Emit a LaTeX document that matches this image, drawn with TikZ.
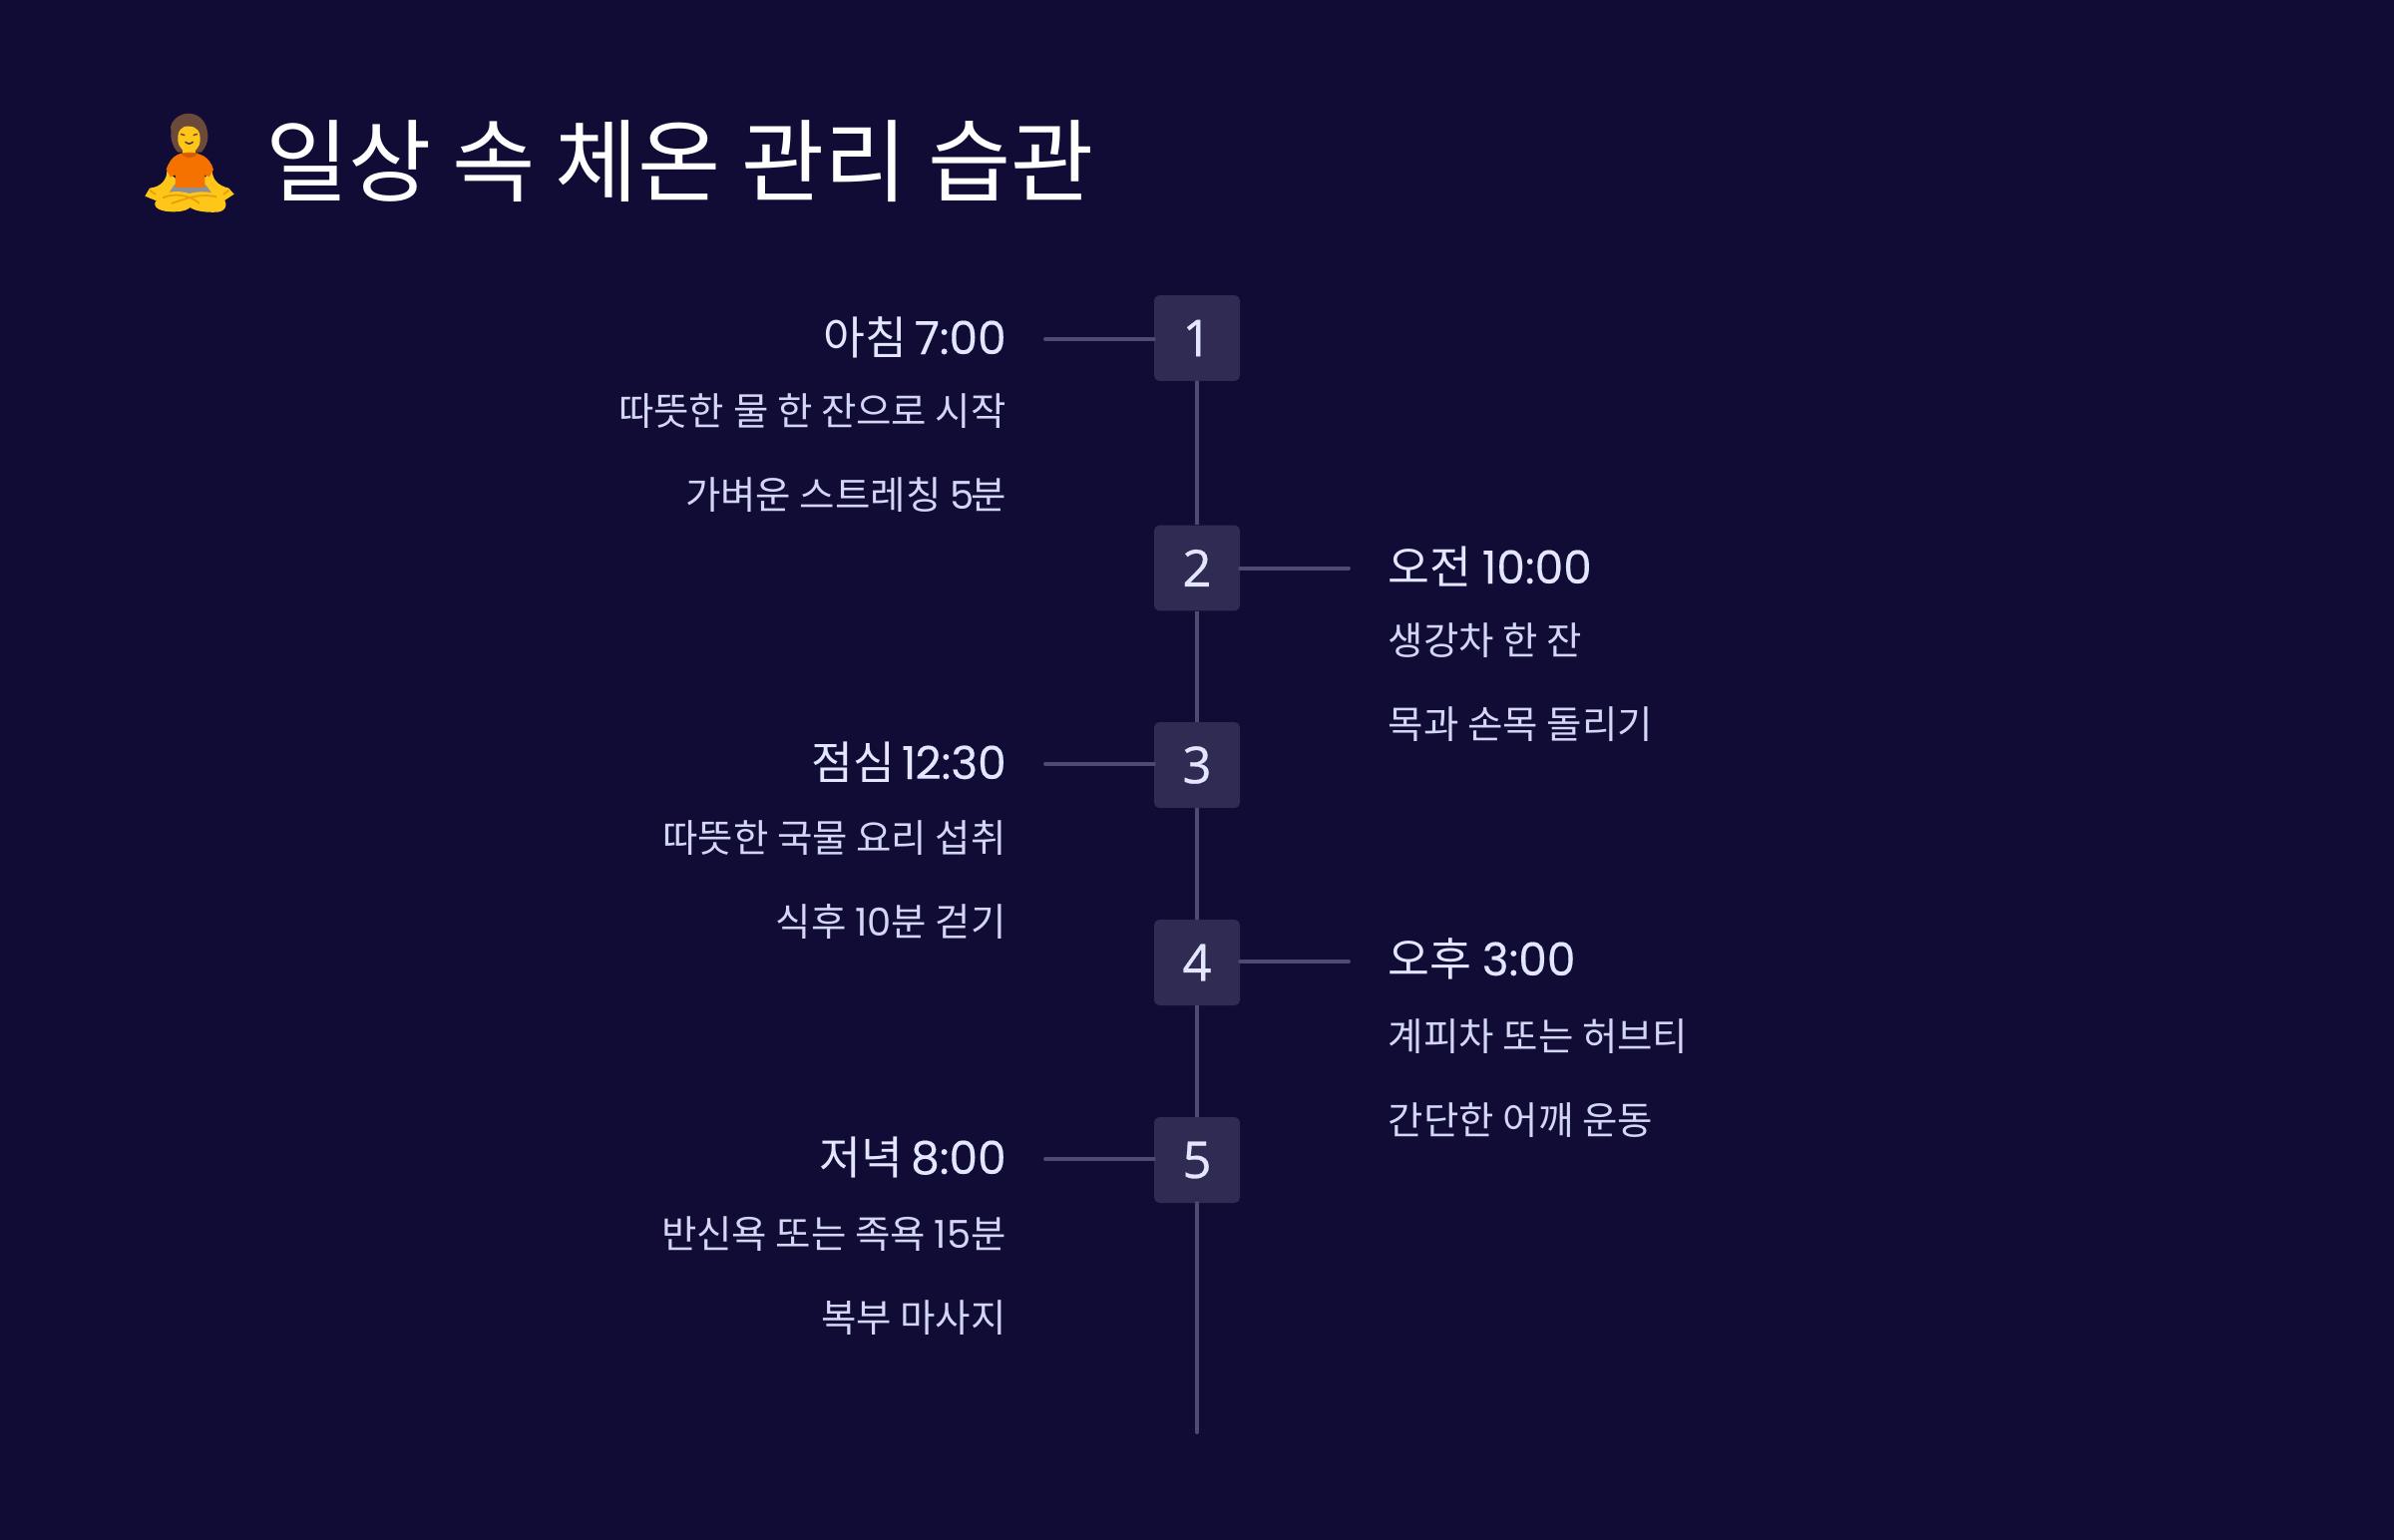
\documentclass[tikz,border=0pt]{standalone}
\usepackage{fontspec}
\setmainfont{Noto Sans CJK KR}
\newfontfamily\latn{Poppins}
\newfontfamily\latnh[FakeBold=0.35]{Poppins}
\newfontfamily\numf[FakeBold=0.6]{Open Sans}
\newcommand{\nd}[1]{\raisebox{-0.05cm}{#1}}
\definecolor{bgc}{HTML}{100C35}
\definecolor{boxc}{HTML}{302B53}
\definecolor{linec}{HTML}{4F4A72}
\definecolor{headc}{HTML}{E2E6FF}
\definecolor{bodyc}{HTML}{D3D7F5}
\definecolor{hairc}{HTML}{6B4A3A}\definecolor{skinc}{HTML}{FFC61A}\definecolor{skind}{HTML}{E8A000}\definecolor{shirtc}{HTML}{F57200}\definecolor{shirtd}{HTML}{D95B00}\definecolor{shortc}{HTML}{8F8F96}
\tikzset{
 x=0.02cm,y=-0.02cm,
 numbox/.style={fill=boxc,rounded corners=3pt,minimum size=1.72cm,inner sep=0,text=headc,font=\numf\fontsize{29}{30}\selectfont},
 conn/.style={draw=linec,line width=0.08cm,line cap=round},
 spine/.style={draw=linec,line width=0.08cm,line cap=butt},
 headl/.style={anchor=base east,inner sep=0,text=headc,font=\fontsize{25.9}{26}\selectfont},
 headr/.style={anchor=base west,inner sep=0,text=headc,font=\fontsize{25.9}{26}\selectfont},
 bodyl/.style={anchor=base east,inner sep=0,text=bodyc,font=\fontsize{21.9}{22}\selectfont},
 bodyr/.style={anchor=base west,inner sep=0,text=bodyc,font=\fontsize{21.9}{22}\selectfont},
}
\begin{document}
\begin{tikzpicture}
\useasboundingbox (0,0) rectangle (2400,1544);
\fill[bgc] (0,0) rectangle (2400,1544);
\node[anchor=base west,inner sep=0,text=white,font=\fontsize{51.5}{52}\selectfont] (title) at (266,196) {일상 속 체온 관리 습관};
\coordinate (tail) at (1200,1436);
\node[numbox] (n1) at (1200,339) {\nd{1}};
\node[numbox] (n2) at (1200,569.5) {\nd{2}};
\node[numbox] (n3) at (1200,767) {\nd{3}};
\node[numbox] (n4) at (1200,965) {\nd{4}};
\node[numbox] (n5) at (1200,1163) {\nd{5}};
\draw[spine] (n1)--(n2);
\draw[spine] (n2)--(n3);
\draw[spine] (n3)--(n4);
\draw[spine] (n4)--(n5);
\draw[conn] (n5.south)--(tail);
\coordinate (c1) at (1048,340);\coordinate (c2) at (1352,569.5);\coordinate (c3) at (1048,766);\coordinate (c4) at (1352,964);\coordinate (c5) at (1048,1162);
\draw[conn] (c1)--(c1-|n1.west);\draw[conn] (c2)--(c2-|n2.east);\draw[conn] (c3)--(c3-|n3.west);\draw[conn] (c4)--(c4-|n4.east);\draw[conn] (c5)--(c5-|n5.west);
\node[headl] (h1) at (1009,355) {아침\kern-0.05cm{} {\latnh 7:00}};
\node[bodyl] (b1a) at (1009,426.5) {따뜻한 물 한 잔으로 시작};
\node[bodyl] (b1b) at (1009,510.5) {가벼운 스트레칭 {\latn 5\kern-0.06cm}분};
\node[headr] (h2) at (1391.5,585) {오전 {\latnh 10:00}};
\node[bodyr] (b2a) at (1391.5,656.5) {생강차 한 잔};
\node[bodyr] (b2b) at (1391.5,740.5) {목과 손목 돌리기};
\node[headl] (h3) at (1009,781) {점심\kern-0.08cm{} {\latnh 1\kern-0.02cm{}2:30}};
\node[bodyl] (b3a) at (1009,854.5) {따뜻한 국물 요리 섭취};
\node[bodyl] (b3b) at (1009,938.5) {식후 {\latn 10}분 걷기};
\node[headr] (h4) at (1391.5,978) {오후 {\latnh 3:00}};
\node[bodyr] (b4a) at (1391.5,1053.5) {계피차 또는 허브티};
\node[bodyr] (b4b) at (1391.5,1137.5) {간단한 어깨 운동};
\node[headl] (h5) at (1009,1177) {저녁\kern-0.05cm{} {\latnh 8:00}};
\node[bodyl] (b5a) at (1009,1251.5) {반신욕 또는 족욕 {\latn 15}분};
\node[bodyl] (b5b) at (1009,1335.5) {복부 마사지};
% meditating person
\begin{scope}[shift={(130,100)},x=0.00667cm,y=-0.00667cm]
\fill[hairc] (150,48) .. controls (130,60) and (120,75) .. (124,95) .. controls (122,115) and (128,140) .. (145,158) -- (215,158) .. controls (238,135) and (240,105) .. (228,75) .. controls (215,45) and (180,32) .. (150,48) -- cycle;
\fill[skinc] (158,130) rectangle (198,170);
\fill[skinc] (178,80) .. controls (155,78) and (143,95) .. (145,122) .. controls (148,148) and (165,158) .. (178,158) .. controls (195,158) and (210,148) .. (212,122) .. controls (213,95) and (202,80) .. (178,80) -- cycle;
\draw[hairc,line width=0.03cm] (153,103) -- (166,107) (191,107) -- (204,103);
\draw[hairc!70!black,line width=0.03cm,line cap=round] (168,127) .. controls (175,134) and (183,134) .. (190,127);
\fill[skinc] (112,215) .. controls (112,240) and (95,262) .. (60,266) -- (46,290) -- (78,303) .. controls (115,290) and (135,270) .. (142,240) -- cycle;
\fill[skinc] (248,215) .. controls (250,240) and (265,258) .. (298,266) -- (314,284) -- (285,303) .. controls (245,292) and (225,270) .. (218,240) -- cycle;
\fill[shortc] (135,255) -- (228,255) -- (250,285) -- (115,285) -- cycle;
\fill[shirtc] (178,158) .. controls (150,160) and (125,165) .. (110,210) -- (122,232) -- (138,226) -- (138,264) -- (226,264) -- (226,226) -- (240,232) -- (252,210) .. controls (240,170) and (212,160) .. (178,158) -- cycle;
\fill[shirtd] (155,160) .. controls (165,180) and (195,180) .. (205,160) -- cycle;
\fill[skinc] (180,282) .. controls (140,270) and (90,275) .. (76,310) .. controls (72,332) and (110,340) .. (150,336) .. controls (165,334) and (175,330) .. (182,324) .. controls (195,334) and (225,340) .. (265,338) .. controls (295,334) and (296,305) .. (275,292) .. controls (250,274) and (210,274) .. (180,282) -- cycle;
\draw[skind,line width=0.035cm] (100,295) .. controls (130,280) and (180,285) .. (210,312) (125,312) .. controls (165,300) and (205,280) .. (262,292) (60,272) -- (78,285) (298,272) -- (282,285);
\end{scope}
\end{tikzpicture}
\end{document}
